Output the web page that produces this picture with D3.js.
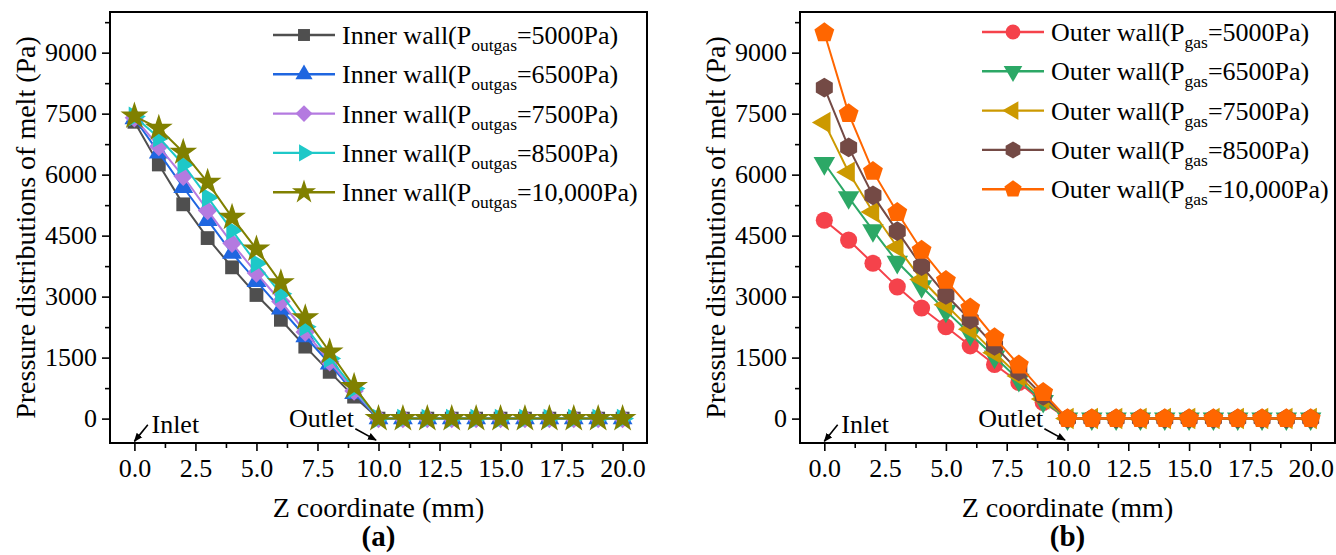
<!DOCTYPE html>
<html>
<head>
<meta charset="utf-8">
<script src="https://cdn.jsdelivr.net/npm/d3@7"></script>
<style>
  body { margin: 0; background: #fff; }
  svg text { font-family: "Liberation Serif", "Times New Roman", serif; fill: #000; }
</style>
</head>
<body>
<div id="chart"></div>
<script>
// Z coordinate (mm)
var zCoord = [0, 1, 2, 3, 4, 5, 6, 7, 8, 9, 10, 11, 12, 13, 14, 15, 16, 17, 18, 19, 20];

// (a) inner wall, pressure of melt (Pa)
var inner5000 = [7300, 6250, 5270, 4440, 3720, 3040, 2430, 1770, 1150, 540, 0, 0, 0, 0, 0, 0, 0, 0, 0, 0, 0];
var inner6500 = [7380, 6540, 5690, 4880, 4070, 3380, 2700, 2020, 1350, 620, 0, 0, 0, 0, 0, 0, 0, 0, 0, 0, 0];
var inner7500 = [7400, 6690, 5960, 5120, 4310, 3580, 2880, 2130, 1400, 680, 0, 0, 0, 0, 0, 0, 0, 0, 0, 0, 0];
var inner8500 = [7430, 6910, 6250, 5440, 4630, 3820, 3070, 2260, 1480, 740, 0, 0, 0, 0, 0, 0, 0, 0, 0, 0, 0];
var inner10000 = [7440, 7140, 6550, 5810, 4950, 4170, 3340, 2480, 1640, 790, 0, 0, 0, 0, 0, 0, 0, 0, 0, 0, 0];

// (b) outer wall, pressure of melt (Pa)
var outer5000 = [4880, 4390, 3820, 3240, 2720, 2260, 1790, 1330, 890, 400, 0, 0, 0, 0, 0, 0, 0, 0, 0, 0, 0];
var outer6500 = [6280, 5440, 4630, 3850, 3250, 2650, 2080, 1520, 950, 430, 0, 0, 0, 0, 0, 0, 0, 0, 0, 0, 0];
var outer7500 = [7280, 6060, 5080, 4220, 3420, 2800, 2200, 1620, 1050, 480, 0, 0, 0, 0, 0, 0, 0, 0, 0, 0, 0];
var outer8500 = [8140, 6670, 5490, 4610, 3750, 3040, 2430, 1790, 1160, 560, 0, 0, 0, 0, 0, 0, 0, 0, 0, 0, 0];
var outer10000 = [9490, 7500, 6080, 5070, 4140, 3400, 2720, 1990, 1320, 640, 0, 0, 0, 0, 0, 0, 0, 0, 0, 0, 0];

var innerLabels = ["=5000Pa)", "=6500Pa)", "=7500Pa)", "=8500Pa)", "=10,000Pa)"];
var outerLabels = ["=5000Pa)", "=6500Pa)", "=7500Pa)", "=8500Pa)", "=10,000Pa)"];

var yTicks = [0, 1500, 3000, 4500, 6000, 7500, 9000];
var yMinorTicks = [750, 2250, 3750, 5250, 6750, 8250, 9750];
var xTicks = [0, 2.5, 5, 7.5, 10, 12.5, 15, 17.5, 20];
var xMinorTicks = [1.25, 3.75, 6.25, 8.75, 11.25, 13.75, 16.25, 18.75];

var serif = "'Liberation Serif', 'Times New Roman', serif";

// regular polygon marker for d3.symbol
function polygon(n, rot) {
    return {
        draw: function (ctx, size) {
            var r = Math.sqrt(size / (0.5 * n * Math.sin(2 * Math.PI / n)));
            for (var i = 0; i < n; i++) {
                var a = rot + i * 2 * Math.PI / n;
                if (i === 0) ctx.moveTo(r * Math.cos(a), r * Math.sin(a));
                else ctx.lineTo(r * Math.cos(a), r * Math.sin(a));
            }
            ctx.closePath();
        }
    };
}

var innerSeries = [
    { values: inner5000, color: "#4f4f4f", shape: polygon(4, Math.PI / 4), size: 190 },
    { values: inner6500, color: "#1f66e0", shape: polygon(3, -Math.PI / 2), size: 170 },
    { values: inner7500, color: "#b47ae0", shape: polygon(4, 0), size: 190 },
    { values: inner8500, color: "#1ec8c8", shape: polygon(3, 0), size: 170 },
    { values: inner10000, color: "#808000", shape: d3.symbolStar, size: 240 }
];

var outerSeries = [
    { values: outer5000, color: "#f5424b", shape: d3.symbolCircle, size: 230 },
    { values: outer6500, color: "#2ca866", shape: polygon(3, Math.PI / 2), size: 200 },
    { values: outer7500, color: "#cc9900", shape: polygon(3, Math.PI), size: 200 },
    { values: outer8500, color: "#744a45", shape: polygon(6, -Math.PI / 2), size: 250 },
    { values: outer10000, color: "#ff6600", shape: polygon(5, -Math.PI / 2), size: 260 }
];

var svgWidth = 1336;
var svgHeight = 555;

var svg = d3.select("#chart")
    .append("svg")
    .attr("width", svgWidth)
    .attr("height", svgHeight)
    .attr("font-family", serif);

var defs = svg.append("defs");
defs.append("marker")
    .attr("id", "arrow")
    .attr("viewBox", "0 0 10 10")
    .attr("refX", 9)
    .attr("refY", 5)
    .attr("markerWidth", 9)
    .attr("markerHeight", 9)
    .attr("markerUnits", "userSpaceOnUse")
    .attr("orient", "auto")
    .append("path")
    .attr("d", "M0,1 L10,5 L0,9 Z")
    .attr("fill", "#000");

function drawPanel(opts) {
    var left = opts.left, right = opts.right, top = 12, bottom = 443;

    var x = d3.scaleLinear().domain([-1, 21]).range([left, right]);
    var y = d3.scaleLinear().domain([-600, 10000]).range([bottom, top]);

    var g = svg.append("g").attr("font-family", serif);

    // axes
    var xAxis = g.append("g")
        .attr("transform", `translate(0, ${bottom})`)
        .call(d3.axisBottom(x).tickValues(xTicks).tickSize(8).tickPadding(8)
            .tickFormat(d3.format(".1f")));
    var xMinor = g.append("g")
        .attr("transform", `translate(0, ${bottom})`)
        .call(d3.axisBottom(x).tickValues(xMinorTicks).tickSize(5).tickFormat(""));
    var yAxis = g.append("g")
        .attr("transform", `translate(${left}, 0)`)
        .call(d3.axisLeft(y).tickValues(yTicks).tickSize(8).tickPadding(5)
            .tickFormat(d3.format("d")));
    var yMinor = g.append("g")
        .attr("transform", `translate(${left}, 0)`)
        .call(d3.axisLeft(y).tickValues(yMinorTicks).tickSize(5).tickFormat(""));

    [xAxis, xMinor, yAxis, yMinor].forEach(function (a) {
        a.attr("font-family", serif).attr("font-size", 26);
        a.select(".domain").remove();
        a.selectAll("line").attr("stroke", "#000").attr("stroke-width", 1.6);
        a.selectAll("text").attr("font-family", serif).style("font-size", "26px");
    });

    // series
    var line = d3.line()
        .x(function (d, i) { return x(zCoord[i]); })
        .y(function (d) { return y(d); });

    opts.series.forEach(function (s) {
        g.append("path")
            .datum(s.values)
            .attr("d", line)
            .attr("fill", "none")
            .attr("stroke", s.color)
            .attr("stroke-width", 2);
        g.selectAll(null)
            .data(s.values)
            .enter()
            .append("path")
            .attr("transform", function (d, i) {
                return `translate(${x(zCoord[i])}, ${y(d)})`;
            })
            .attr("d", d3.symbol().type(s.shape).size(s.size))
            .attr("fill", s.color);
    });

    // frame
    g.append("rect")
        .attr("x", left)
        .attr("y", top)
        .attr("width", right - left)
        .attr("height", bottom - top)
        .attr("fill", "none")
        .attr("stroke", "#000")
        .attr("stroke-width", 2);

    // legend
    opts.series.forEach(function (s, i) {
        var ly = opts.legendTop + i * 39.3;
        var lx = opts.legendLeft;
        g.append("line")
            .attr("x1", lx).attr("x2", lx + 62)
            .attr("y1", ly).attr("y2", ly)
            .attr("stroke", s.color).attr("stroke-width", 2.4);
        g.append("path")
            .attr("transform", `translate(${lx + 31}, ${ly})`)
            .attr("d", d3.symbol().type(s.shape).size(s.size * 0.75))
            .attr("fill", s.color);
        var t = g.append("text")
            .attr("x", lx + 69)
            .attr("y", ly + 9)
            .style("font-size", "26px");
        t.append("tspan").text(opts.prefix);
        t.append("tspan").attr("dy", 7).style("font-size", "17.5px").text(opts.sub);
        t.append("tspan").attr("dy", -7).text(opts.labels[i]);
    });

    // axis titles
    g.append("text")
        .attr("transform", `translate(${left - 75}, ${(top + bottom) / 2}) rotate(-90)`)
        .attr("text-anchor", "middle")
        .style("font-size", "28px")
        .text("Pressure distributions of melt (Pa)");

    g.append("text")
        .attr("x", (left + right) / 2)
        .attr("y", 517)
        .attr("text-anchor", "middle")
        .style("font-size", "28px")
        .text("Z coordinate (mm)");

    g.append("text")
        .attr("x", (left + right) / 2)
        .attr("y", 546)
        .attr("text-anchor", "middle")
        .style("font-size", "29px")
        .style("font-weight", "bold")
        .text(opts.tag);

    // inlet / outlet annotations
    g.append("text")
        .attr("x", x(0.7))
        .attr("y", y(-350))
        .style("font-size", "26px")
        .text("Inlet");
    g.append("line")
        .attr("x1", x(0.55)).attr("y1", y(-150))
        .attr("x2", x(0)).attr("y2", y(-560))
        .attr("stroke", "#000").attr("stroke-width", 1.6)
        .attr("marker-end", "url(#arrow)");

    g.append("text")
        .attr("x", x(9.0))
        .attr("y", y(-200))
        .attr("text-anchor", "end")
        .style("font-size", "26px")
        .text("Outlet");
    g.append("line")
        .attr("x1", x(9.05)).attr("y1", y(-250))
        .attr("x2", x(9.9)).attr("y2", y(-530))
        .attr("stroke", "#000").attr("stroke-width", 1.6)
        .attr("marker-end", "url(#arrow)");
}

drawPanel({
    left: 110, right: 647, series: innerSeries, labels: innerLabels,
    prefix: "Inner wall(P", sub: "outgas", legendLeft: 273, legendTop: 35, tag: "(a)"
});

drawPanel({
    left: 800, right: 1335, series: outerSeries, labels: outerLabels,
    prefix: "Outer wall(P", sub: "gas", legendLeft: 982, legendTop: 32, tag: "(b)"
});
</script>
</body>
</html>
